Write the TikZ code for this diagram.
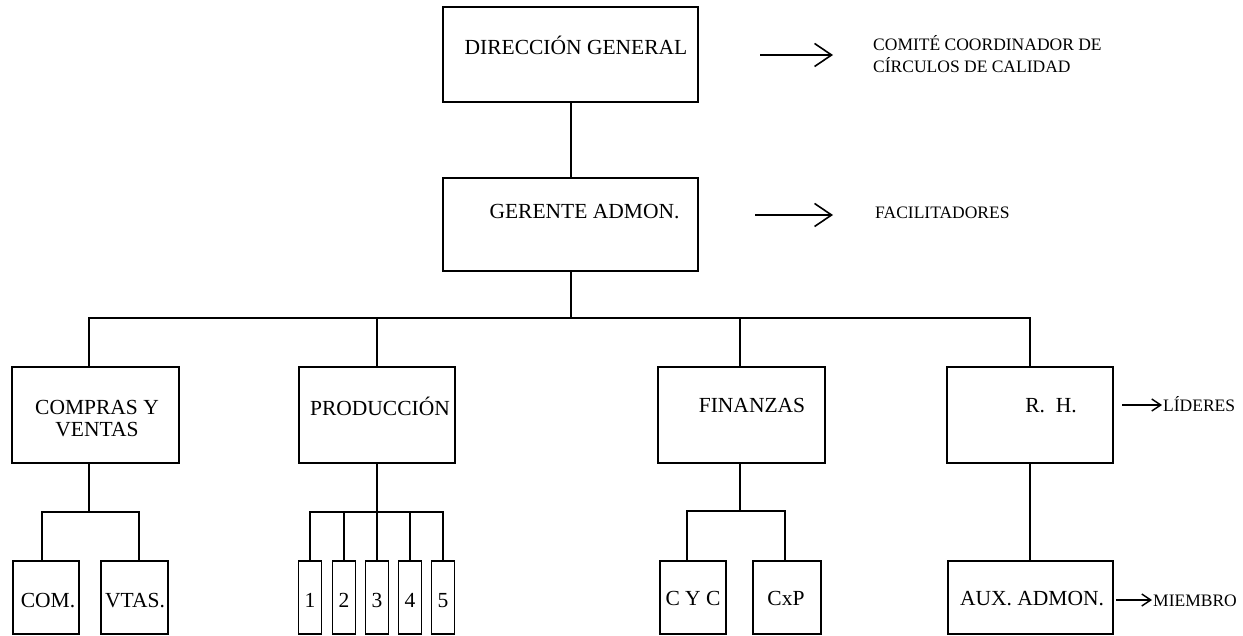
\documentclass[tikz,border=0pt]{standalone}
\usepackage{fontspec}
\setmainfont{Liberation Serif}
\usetikzlibrary{arrows.meta}

\begin{document}
\begin{tikzpicture}[x=1pt,y=-1pt,
  caja/.style={draw,line width=1.7pt,inner sep=0pt},
  txt/.style={anchor=base,inner sep=0pt,font=\fontsize{21.5}{22}\selectfont},
  nota/.style={anchor=base west,inner sep=0pt,font=\fontsize{17.5}{22}\selectfont},
  linea/.style={line width=1.8pt},
  flecha/.style={line width=1.6pt,-{Straight Barb[length=17pt,width=23pt,line width=1.6pt]}},
  flechita/.style={line width=1.4pt,-{Straight Barb[length=9pt,width=12pt,line width=1.4pt]}}]
\useasboundingbox (0,0) rectangle (1243,636);
\node[caja,minimum width=255pt,minimum height=95pt] (dg) at (570.5,54.5) {};
\node[txt] (dgt) at (576,55) {DIRECCIÓN GENERAL};
\node[caja,minimum width=255pt,minimum height=93pt] (ga) at (570.5,224.5) {};
\node[txt] (gat) at (584.5,219) {GERENTE ADMON.};
\node[caja,minimum width=167pt,minimum height=96pt] (cv) at (95.5,415) {};
\node[txt,anchor=center,align=center] (cvt) at (97,419) {COMPRAS Y\\VENTAS};
\node[caja,minimum width=156pt,minimum height=96pt] (prod) at (377,415) {};
\node[txt] (prodt) at (380,415) {PRODUCCIÓN};
\node[caja,minimum width=167pt,minimum height=96pt] (fin) at (741.5,415) {};
\node[txt] (fint) at (752,413) {FINANZAS};
\node[caja,minimum width=166pt,minimum height=96pt] (rh) at (1030,415) {};
\node[txt] (rht) at (1051,413) {R.\ \ H.};
\node[caja,minimum width=66pt,minimum height=73pt] (com) at (46,597.5) {};
\node[txt] (comt) at (48,607) {COM.};
\node[caja,minimum width=67pt,minimum height=73pt] (vtas) at (134.5,597.5) {};
\node[txt] (vtast) at (135,607) {VTAS.};
\foreach \i/\x in {1/310,2/344,3/377,4/410,5/443}{
  \node[caja,minimum width=23pt,minimum height=73pt] (p\i) at (\x,597.5) {};
  \node[txt] (p\i t) at (\x,607) {\i};
}
\node[caja,minimum width=66pt,minimum height=73pt] (cyc) at (693,597.5) {};
\node[txt] (cyct) at (693,605) {C Y C};
\node[caja,minimum width=68pt,minimum height=73pt] (cxp) at (787,597.5) {};
\node[txt] (cxpt) at (786,605) {CxP};
\node[caja,minimum width=165pt,minimum height=73pt] (aux) at (1030.5,597.5) {};
\node[txt] (auxt) at (1032,605) {AUX. ADMON.};
\node[nota,anchor=west,align=left] (comite) at (873,54) {COMITÉ COORDINADOR DE\\CÍRCULOS DE CALIDAD};
\node[nota] (facil) at (875,219) {FACILITADORES};
\node[nota] (lider) at (1163,411) {LÍDERES};
\node[nota] (miembro) at (1153,606) {MIEMBRO};
% conectores
\coordinate (bus) at (571,318);
\coordinate (cvj) at (89,512);
\coordinate (pj) at (377,512);
\coordinate (fj) at (740,511);
\draw[linea] (dg.south -| bus) -- (ga.north -| bus);
\draw[linea] (ga.south -| bus) -- (bus);
\draw[linea] (cv.north -| cvj) |- (bus) -| (rh.north);
\draw[linea] (prod.north) -- (prod.north |- bus);
\draw[linea] (fin.north -| fj) -- (fj |- bus);
\draw[linea] (cv.south -| cvj) -- (cvj);
\draw[linea] (com.north) ++(-4pt,0) |- (cvj) -| ([xshift=4.5pt]vtas.north);
\draw[linea] (prod.south) -- (pj);
\draw[linea] (p1.north) |- (pj) -| (p5.north);
\foreach \i in {2,3,4} \draw[linea] (p\i.north) -- (p\i.north |- pj);
\draw[linea] (fin.south -| fj) -- (fj);
\draw[linea] (cyc.north) ++(-6pt,0) |- (fj) -| ([xshift=-2pt]cxp.north);
\draw[linea] (rh.south) -- (rh.south |- aux.north);
% flechas
\coordinate (a1) at (760,55);
\coordinate (a2) at (755,215);
\coordinate (a3) at (1122,405);
\coordinate (a4) at (1116,600);
\draw[flecha,shorten >=40pt] (a1) -- (a1 -| comite.west);
\draw[flecha,shorten >=42pt] (a2) -- (a2 -| facil.west);
\draw[flechita,shorten >=1pt] (a3) -- (a3 -| lider.west);
\draw[flechita,shorten >=1pt] (a4) -- (a4 -| miembro.west);
\end{tikzpicture}
\end{document}
